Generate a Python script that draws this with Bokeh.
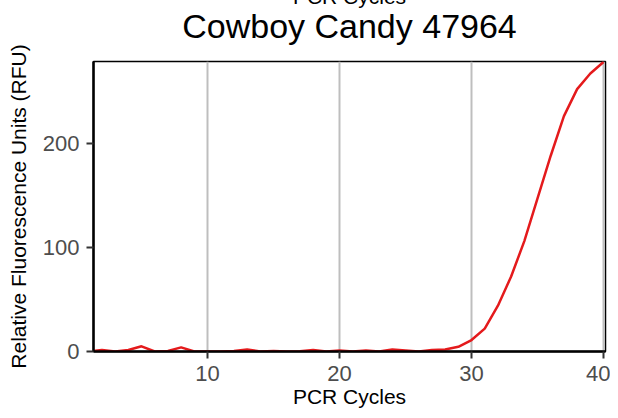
from bokeh.plotting import figure
from bokeh.models import Range1d, FixedTicker, Title, LinearAxis
from bokeh.embed import file_html
from bokeh.resources import INLINE

title_text = "Cowboy Candy 47964"
x_label = "PCR Cycles"
y_label = "Relative Fluorescence Units (RFU)"

cycles = list(range(1, 41))
rfu = [0, 1.5, 0, 1.5, 5, 0, 0.5, 4, 0, 0,
       0, 0.5, 2, 0, 0.5, 0, 0.3, 1.5, 0, 1,
       0, 1, 0, 2, 1, 0, 1.5, 2, 4.5, 11,
       22, 44, 72, 106, 147, 188, 226, 252, 267, 278]
x_ticks = [10, 20, 30, 40]
y_ticks = [0, 100, 200]

FONT = "Liberation Sans"

p = figure(width=610, height=410, output_backend="svg", toolbar_location=None,
           x_range=Range1d(1.36, 40.15), y_range=Range1d(0, 278.5),
           min_border_left=93, min_border_right=5, min_border_top=61, min_border_bottom=58)
p.title.visible = False

p.line(cycles, rfu, line_color="#e41a1c", line_width=2.5)

p.outline_line_color = "black"
p.outline_line_width = 1.5
p.background_fill_color = "white"
p.border_fill_color = "white"

p.xgrid.ticker = FixedTicker(ticks=x_ticks)
p.xgrid.grid_line_color = "#bebebe"
p.xgrid.grid_line_width = 2
p.ygrid.grid_line_color = None

for ax, ticks in ((p.xaxis[0], x_ticks), (p.yaxis[0], y_ticks)):
    ax.ticker = FixedTicker(ticks=ticks)
    ax.minor_tick_line_color = None
    ax.major_tick_in = 0
    ax.major_tick_out = 7
    ax.major_tick_line_color = "#333333"
    ax.major_tick_line_width = 2
    ax.axis_line_color = "black"
    ax.axis_line_width = 2.5
    ax.major_label_text_font = FONT
    ax.major_label_text_font_size = "22px"
    ax.major_label_text_color = "#4d4d4d"
    ax.axis_label_text_font = FONT
    ax.axis_label_text_font_size = "21px"
    ax.axis_label_text_font_style = "normal"
    ax.axis_label_text_color = "black"

p.xaxis[0].axis_label = x_label
p.xaxis[0].major_label_standoff = 7
p.xaxis[0].axis_label_standoff = 1
p.yaxis[0].axis_label = y_label
p.yaxis[0].major_label_standoff = 7
p.yaxis[0].axis_label_standoff = 10

# main title: label of a bare axis above the panel
title_axis = LinearAxis(ticker=FixedTicker(ticks=[]), axis_label=title_text,
                        axis_line_color=None, major_tick_out=0, major_tick_in=0,
                        minor_tick_out=0, minor_tick_in=0, major_label_standoff=0,
                        axis_label_standoff=17, axis_label_text_font=FONT,
                        axis_label_text_font_size="34px", axis_label_text_font_style="normal",
                        axis_label_text_color="black")
p.add_layout(title_axis, "above")

# top axis title, clipped by the top edge (outermost)
p.add_layout(Title(text=x_label, text_font=FONT, text_font_size="21px",
                   text_font_style="normal", text_color="black", align="center",
                   vertical_align="top", standoff=-37), "above")

open("out.html", "w").write(file_html(p, INLINE))
